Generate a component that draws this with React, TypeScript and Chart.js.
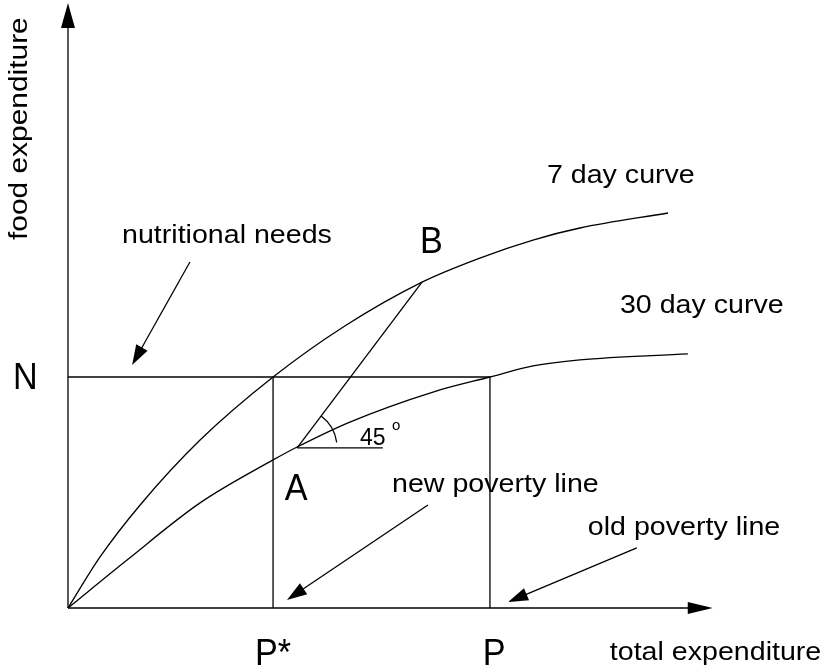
import React, { useEffect, useRef } from "react";
import { Chart, registerables } from "chart.js";

Chart.register(...registerables);

// Data units: x = total expenditure (P = 100), y = food expenditure (N = 100)
const curve7x = [0, 7.6, 17.1, 31.3, 48.6, 65.6, 83.9, 97.6, 110.2, 121.3, 142.2];
const curve7y = [0, 22.1, 44.6, 72.7, 100, 122.1, 141.1, 151.5, 159.3, 164.5, 171.0];
const curve30x = [0, 14.0, 31.3, 48.6, 54.3, 66.8, 86.5, 100, 110.2, 121.3, 146.9];
const curve30y = [0, 20.8, 45.5, 64.1, 69.7, 80.5, 93.5, 100, 104.8, 107.4, 110.0];

const N_LEVEL = 100;
const P_STAR = 48.6;
const P_OLD = 100;
const pointA = [54.3, 69.3];
const pointB = [83.9, 141.1];
const horizEndX = 74.6;
const xAxisEnd = 152.8;
const yAxisEnd = 261.9;

const X_MIN = -16.11, X_MAX = 179.4, Y_MIN = -26.84, Y_MAX = 263.2;

// arrows: [fromX, fromY, tipX, tipY]
const pointerArrows = [
  [28.9, 149.8, 15.2, 105.2],
  [85.3, 44.6, 51.9, 3.5],
  [134.8, 26.0, 104.3, 2.6],
];

// text labels: [text, x, y, kind]
const textLabels: [string, number, number, string][] = [
  ["7 day curve", 113.5, 184.0, "label"],
  ["30 day curve", 130.8, 127.7, "label"],
  ["nutritional needs", 12.8, 158.0, "label"],
  ["new poverty line", 76.8, 50.2, "label"],
  ["old poverty line", 123.2, 31.6, "label"],
  ["total expenditure", 128.4, -22.5, "label"],
  ["N", -13.0, 94.8, "letter"],
  ["A", 51.4, 46.8, "letter"],
  ["B", 83.4, 153.7, "letter"],
  ["P*", 44.3, -24.7, "letter"],
  ["P", 98.3, -24.7, "letter"],
  ["45", 69.2, 70.6, "angle"],
  ["o", 76.8, 77.1, "deg"],
];
const yTitle: [string, number, number] = ["food expenditure", -9.7, 159.3];

const pts = (xs: number[], ys: number[]) => xs.map((x, i) => ({ x, y: ys[i] }));

export default function App() {
  const ref = useRef<HTMLCanvasElement | null>(null);
  useEffect(() => {
    document.body.style.margin = "0";
    const canvas = ref.current!;
    const FONT = "'Liberation Sans', Arial, Helvetica, sans-serif";
    const lineStyle = {
      borderColor: "#000",
      borderWidth: 1.3,
      pointRadius: 0,
      fill: false,
      clip: false as any,
    };
    const drawPlugin = {
      id: "diagram",
      afterDatasetsDraw(chart: any) {
        const ctx = chart.ctx as CanvasRenderingContext2D;
        const xs = chart.scales.x, ys = chart.scales.y;
        const px = (v: number) => xs.getPixelForValue(v);
        const py = (v: number) => ys.getPixelForValue(v);
        ctx.save();
        ctx.strokeStyle = "#000";
        ctx.fillStyle = "#000";
        ctx.lineWidth = 1.3;
        const head = (x0: number, y0: number, x1: number, y1: number, len: number, hw: number) => {
          const a = Math.atan2(y1 - y0, x1 - x0);
          const bx = x1 - len * Math.cos(a), by = y1 - len * Math.sin(a);
          ctx.beginPath();
          ctx.moveTo(x1, y1);
          ctx.lineTo(bx + hw * Math.sin(a), by - hw * Math.cos(a));
          ctx.lineTo(bx - hw * Math.sin(a), by + hw * Math.cos(a));
          ctx.closePath();
          ctx.fill();
        };
        // axes arrowheads
        head(px(0), py(0), px(0), py(yAxisEnd), 25, 7);
        head(px(0), py(0), px(xAxisEnd), py(0), 25, 6);
        // pointer arrows
        for (const [fx, fy, tx, ty] of pointerArrows) {
          const x0 = px(fx), y0 = py(fy), x1 = px(tx), y1 = py(ty);
          const a = Math.atan2(y1 - y0, x1 - x0);
          ctx.beginPath();
          ctx.moveTo(x0, y0);
          ctx.lineTo(x1 - 10 * Math.cos(a), y1 - 10 * Math.sin(a));
          ctx.stroke();
          head(x0, y0, x1, y1, 20, 6.5);
        }
        // angle arc at A
        const ax = px(pointA[0]), ay = py(pointA[1]);
        const bAng = Math.atan2(py(pointB[1]) - ay, px(pointB[0]) - ax);
        ctx.beginPath();
        ctx.arc(ax, ay, 40, bAng, (-8 * Math.PI) / 180);
        ctx.stroke();
        // texts
        ctx.textBaseline = "alphabetic";
        ctx.textAlign = "left";
        for (const [t, x, y, kind] of textLabels) {
          ctx.save();
          ctx.translate(px(x), py(y));
          if (kind === "label") {
            ctx.font = `26px ${FONT}`;
            ctx.scale(1.1, 1);
          } else if (kind === "letter") {
            ctx.font = `36px ${FONT}`;
            ctx.scale(0.95, 1.05);
          } else if (kind === "angle") {
            ctx.font = `23px ${FONT}`;
          } else {
            ctx.font = `15px ${FONT}`;
          }
          ctx.fillText(t, 0, 0);
          ctx.restore();
        }
        ctx.save();
        ctx.translate(px(yTitle[1]), py(yTitle[2]));
        ctx.rotate(-Math.PI / 2);
        ctx.scale(1.15, 1);
        ctx.font = `26px ${FONT}`;
        ctx.fillText(yTitle[0], 0, 0);
        ctx.restore();
        ctx.restore();
      },
    };
    const chart = new Chart(canvas, {
      type: "line",
      data: {
        datasets: [
          { ...lineStyle, data: pts(curve7x, curve7y), cubicInterpolationMode: "monotone" },
          { ...lineStyle, data: pts(curve30x, curve30y), cubicInterpolationMode: "monotone" },
          { ...lineStyle, data: [{ x: 0, y: N_LEVEL }, { x: P_OLD, y: N_LEVEL }] },
          { ...lineStyle, data: [{ x: P_STAR, y: 0 }, { x: P_STAR, y: N_LEVEL }] },
          { ...lineStyle, data: [{ x: P_OLD, y: 0 }, { x: P_OLD, y: N_LEVEL }] },
          { ...lineStyle, data: [{ x: pointA[0], y: pointA[1] }, { x: pointB[0], y: pointB[1] }] },
          { ...lineStyle, data: [{ x: pointA[0], y: pointA[1] }, { x: horizEndX, y: pointA[1] }] },
          { ...lineStyle, data: [{ x: 0, y: 0 }, { x: 0, y: yAxisEnd - 8 }] },
          { ...lineStyle, data: [{ x: 0, y: 0 }, { x: xAxisEnd - 4, y: 0 }] },
        ] as any,
      },
      options: {
        animation: false,
        responsive: false,
        devicePixelRatio: 1,
        layout: { padding: 0 },
        plugins: { legend: { display: false }, tooltip: { enabled: false } },
        events: [],
        scales: {
          x: { type: "linear", display: false, min: X_MIN, max: X_MAX },
          y: { type: "linear", display: false, min: Y_MIN, max: Y_MAX },
        },
      },
      plugins: [drawPlugin],
    });
    return () => chart.destroy();
  }, []);
  return (
    <div style={{ position: "fixed", left: 0, top: 0, width: 825, height: 670, background: "#fff" }}>
      <canvas ref={ref} width={825} height={670} />
    </div>
  );
}
